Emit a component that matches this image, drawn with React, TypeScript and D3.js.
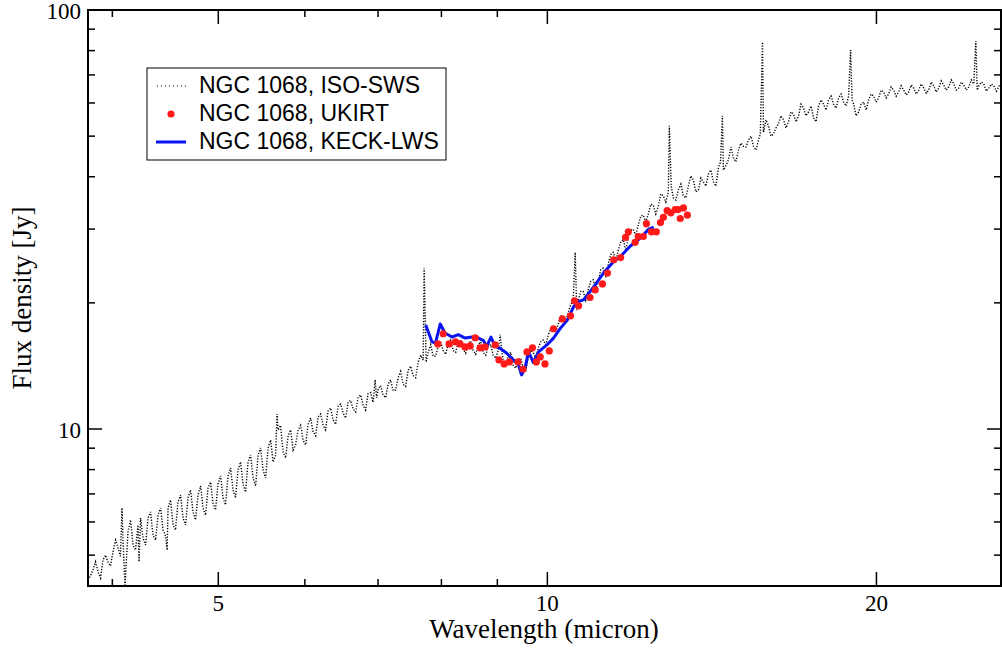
import React from "react";
import * as d3 from "d3";

const isoSws: [number, number][] = [
  [3.800,4.36],[3.820,4.46],[3.840,4.61],[3.861,4.82],[3.881,4.56],[3.902,4.41],[3.922,4.87],[3.943,5.00],[3.963,4.82],[3.984,4.71],
  [4.005,5.08],[4.027,5.43],[4.048,5.20],[4.069,4.97],[4.082,6.48],[4.091,5.43],[4.108,4.24],[4.134,5.68],[4.156,6.07],[4.178,5.29],
  [4.200,5.14],[4.222,5.90],[4.231,4.82],[4.245,6.13],[4.267,5.49],[4.290,5.29],[4.312,6.13],[4.335,6.34],[4.358,5.58],[4.381,5.43],
  [4.404,6.23],[4.428,6.48],[4.451,5.74],[4.475,5.55],[4.489,5.14],[4.498,6.48],[4.522,6.77],[4.545,5.90],[4.569,5.74],[4.593,6.70],
  [4.618,6.96],[4.642,6.13],[4.667,5.90],[4.691,6.85],[4.716,7.15],[4.741,6.34],[4.766,6.07],[4.791,6.96],[4.817,7.31],[4.842,6.48],
  [4.868,6.23],[4.893,7.23],[4.919,7.47],[4.945,6.66],[4.971,6.41],[4.997,7.39],[5.024,7.73],[5.050,6.85],[5.077,6.59],[5.104,7.73],
  [5.131,8.07],[5.158,7.15],[5.185,6.85],[5.212,7.98],[5.240,8.34],[5.268,7.39],[5.296,7.07],[5.323,8.34],[5.352,8.67],[5.380,7.64],
  [5.409,7.31],[5.437,8.67],[5.466,9.01],[5.495,7.98],[5.524,7.64],[5.553,9.01],[5.583,9.41],[5.612,8.34],[5.642,8.67],[5.659,10.86],
  [5.671,9.95],[5.701,10.2],[5.731,8.82],[5.762,8.53],[5.792,9.63],[5.823,9.95],[5.853,8.91],[5.884,9.16],[5.915,9.95],[5.947,10.2],
  [5.978,9.41],[6.010,9.16],[6.041,10.26],[6.073,10.62],[6.105,9.84],[6.138,9.63],[6.170,10.68],[6.203,10.86],[6.235,10.2],[6.268,9.95],
  [6.301,11.04],[6.335,11.22],[6.368,10.5],[6.402,10.26],[6.435,11.34],[6.470,11.46],[6.504,10.92],[6.538,10.62],[6.572,11.58],[6.607,11.7],
  [6.642,11.16],[6.677,10.98],[6.712,11.88],[6.748,12.06],[6.783,11.4],[6.819,11.1],[6.855,12.16],[6.892,12.22],[6.928,11.58],[6.957,13.1],
  [6.979,11.88],[7.001,12.4],[7.038,12.7],[7.075,12.04],[7.113,11.88],[7.150,12.78],[7.188,13.1],[7.226,12.34],[7.265,12.4],[7.303,13.26],
  [7.342,13.72],[7.380,12.78],[7.419,12.64],[7.458,13.8],[7.498,14.12],[7.537,13.42],[7.577,13.26],[7.617,14.44],[7.658,15.0],[7.698,14.6],
  [7.714,24.2],[7.747,14.44],[7.779,15.24],[7.821,15.9],[7.862,14.92],[7.904,14.92],[7.945,15.8],[7.987,16.14],[8.029,15.4],[8.072,15.08],
  [8.114,15.98],[8.157,16.3],[8.200,15.4],[8.244,15.24],[8.287,16.06],[8.331,16.3],[8.375,15.5],[8.419,15.16],[8.463,15.98],[8.508,16.22],
  [8.553,15.4],[8.599,15.08],[8.644,15.9],[8.690,16.14],[8.735,15.24],[8.782,15.0],[8.828,15.72],[8.875,15.9],[8.921,15.0],[8.969,14.76],
  [9.016,15.4],[9.054,16.8],[9.08,15.56],[9.111,14.6],[9.160,14.2],[9.208,14.92],[9.257,15.24],[9.305,14.2],[9.355,13.96],[9.404,14.6],
  [9.454,14.76],[9.503,13.96],[9.554,13.72],[9.604,14.76],[9.655,15.4],[9.706,15.24],[9.757,14.76],[9.808,15.6],[9.860,16.14],[9.912,16.3],
  [9.965,15.9],[10.017,16.7],[10.070,17.4],[10.123,17.4],[10.177,17.0],[10.231,17.8],[10.285,18.6],[10.339,18.6],[10.394,18.0],[10.449,19.0],
  [10.505,19.8],[10.560,20.4],[10.604,26.4],[10.638,19.2],[10.671,20.3],[10.728,21.3],[10.784,21.3],[10.842,20.3],[10.899,21.5],[10.957,22.5],
  [11.014,22.7],[11.073,21.5],[11.131,22.5],[11.190,24.0],[11.249,24.2],[11.309,23.2],[11.368,24.7],[11.429,26.1],[11.489,26.4],[11.550,25.2],
  [11.610,26.7],[11.672,28.0],[11.733,28.3],[11.796,26.7],[11.858,28.6],[11.921,29.8],[11.983,30.0],[12.047,28.9],[12.110,30.7],[12.175,32.2],
  [12.239,32.4],[12.304,31.2],[12.369,32.6],[12.435,34.4],[12.500,34.2],[12.566,32.6],[12.632,34.0],[12.699,36.4],[12.766,36.0],[12.834,34.8],
  [12.902,36.8],[12.929,52.9],[12.98,38.0],[13.038,35.6],[13.108,35.2],[13.177,37.2],[13.247,38.4],[13.316,36.0],[13.387,35.6],[13.458,38.0],
  [13.529,40.2],[13.600,39.3],[13.673,36.8],[13.745,37.2],[13.818,39.7],[13.890,38.9],[13.964,38.0],[14.038,40.6],[14.113,41.5],[14.187,38.9],
  [14.262,38.0],[14.337,42.0],[14.40,43.4],[14.458,55.9],[14.489,41.5],[14.566,42.5],[14.643,43.9],[14.721,47.1],[14.798,44.4],[14.877,43.4],
  [14.955,46.3],[15.034,48.1],[15.113,47.3],[15.194,47.1],[15.274,48.9],[15.355,50.0],[15.436,47.3],[15.518,46.3],[15.599,48.9],[15.66,50.6],
  [15.732,83.9],[15.765,51.1],[15.849,54.7],[15.932,52.9],[16.017,50.0],[16.101,50.6],[16.186,52.3],[16.271,53.5],[16.358,55.9],[16.444,54.7],
  [16.531,52.3],[16.618,54.1],[16.707,57.1],[16.795,56.5],[16.884,54.1],[16.973,55.9],[17.063,59.6],[17.153,58.3],[17.244,55.9],[17.335,57.1],
  [17.427,59.0],[17.518,55.3],[17.611,54.1],[17.704,59.0],[17.798,61.0],[17.892,59.6],[17.987,57.7],[18.081,61.0],[18.177,62.3],[18.273,59.6],
  [18.370,58.3],[18.467,61.7],[18.565,63.0],[18.663,60.3],[18.762,59.0],[18.861,62.3],[18.94,80.3],[19.00,61.0],[19.061,59.6],[19.162,55.9],
  [19.263,57.1],[19.365,59.6],[19.467,60.3],[19.570,57.7],[19.673,61.0],[19.778,63.0],[19.882,62.3],[19.988,60.3],[20.093,61.7],[20.200,64.4],
  [20.306,63.7],[20.414,61.7],[20.521,63.0],[20.630,65.5],[20.739,64.4],[20.849,62.3],[20.959,63.7],[21.070,65.9],[21.181,64.4],[21.294,62.7],
  [21.406,63.7],[21.520,66.2],[21.633,65.1],[21.748,63.0],[21.862,64.4],[21.978,66.6],[22.094,65.1],[22.211,63.3],[22.328,64.4],[22.447,67.3],
  [22.565,65.9],[22.685,63.7],[22.804,65.1],[22.925,67.7],[23.046,66.2],[23.168,64.4],[23.290,65.5],[23.414,68.1],[23.537,66.6],[23.662,64.4],
  [23.787,65.1],[23.913,67.3],[24.039,66.2],[24.167,64.4],[24.294,65.5],[24.423,68.1],[24.552,66.6],[24.656,84.3],[24.73,64.4],[24.812,65.9],
  [24.944,67.3],[25.075,66.6],[25.208,64.0],[25.341,65.1],[25.476,66.6],[25.610,65.9],[25.746,64.0],[25.881,65.5],[25.95,66.6],
];

const ukirt: [number, number][] = [
  [7.94,15.96],[8.03,16.88],[8.13,15.96],[8.24,16.14],[8.32,15.96],[8.41,15.70],[8.50,15.79],[8.59,16.51],[8.68,15.62],[8.77,15.70],
  [8.96,15.87],[9.03,14.62],[9.13,14.30],[9.23,14.46],[9.40,14.46],[9.50,13.90],[9.58,15.27],[9.69,15.62],[9.77,14.46],[9.85,14.86],
  [9.95,14.30],[10.04,15.36],[10.13,17.35],[10.32,18.31],[10.50,18.63],[10.59,20.23],[10.68,19.68],[10.94,20.6],[11.06,21.47],[11.23,22.2],
  [11.35,23.56],[11.50,25.35],[11.67,25.65],[11.79,28.66],[11.86,29.56],[12.03,27.9],[12.11,28.8],[12.24,28.8],[12.32,30.9],[12.45,29.56],
  [12.58,29.56],[12.69,31.1],[12.77,32.0],[12.87,33.2],[12.97,32.8],[13.09,33.4],[13.17,33.4],[13.23,31.8],[13.32,33.7],[13.43,32.4],
];

const keckLws: [number, number][] = [
  [7.74,17.72],[7.84,16.17],[7.90,16.02],[7.98,17.81],[8.06,16.95],[8.18,16.58],[8.29,16.79],[8.41,16.48],[8.53,16.58],[8.65,16.48],
  [8.74,16.26],[8.80,15.73],[8.88,16.58],[8.96,15.73],[9.05,15.59],[9.18,15.16],[9.31,14.62],[9.41,14.22],[9.47,13.46],[9.54,13.96],
  [9.61,15.3],[9.71,14.41],[9.82,15.3],[9.99,15.87],[10.13,16.48],[10.28,17.41],[10.43,18.21],[10.57,19.6],[10.69,20.16],[10.80,20.37],
  [11.02,21.8],[11.26,23.6],[11.50,25.1],[11.67,25.85],[11.91,27.35],[12.08,28.1],[12.25,29.1],[12.38,30.0],[12.51,30.3],
];

const xDomain: [number, number] = [3.8, 26];
const yDomain: [number, number] = [4.22, 100];
const xMajorTicks = [5, 10, 20];
const xMinorTicks = [4, 6, 7, 8, 9];
const yMajorTicks = [10, 100];
const yMinorTicks = [5, 6, 7, 8, 9, 20, 30, 40, 50, 60, 70, 80, 90];
const legendLabels = ["NGC 1068, ISO-SWS", "NGC 1068, UKIRT", "NGC 1068, KECK-LWS"];

const W = 1002;
const H = 648;
const L = 88, R = 1001, T = 10, B = 586;
const serif = "'Liberation Serif', 'Times New Roman', Times, serif";
const sans = "'Liberation Sans', Arial, Helvetica, sans-serif";

export default function App() {
  const x = d3.scaleLog().domain(xDomain).range([L, R]);
  const y = d3.scaleLog().domain(yDomain).range([B, T]);
  const line = d3.line<[number, number]>().x(d => x(d[0])).y(d => y(d[1]));
  const majLen = 14, minLen = 7;

  return (
    <svg width={W} height={H} style={{ position: "absolute", left: 0, top: 0, background: "#fff" }}>
      <defs>
        <clipPath id="plotclip"><rect x={L} y={T} width={R - L} height={B - T} /></clipPath>
      </defs>
      <g clipPath="url(#plotclip)">
        <path d={line(isoSws) || ""} fill="none" stroke="#000" strokeWidth={1.4} strokeDasharray="1.2,1.6" />
        <path d={line(keckLws) || ""} fill="none" stroke="#0a14f0" strokeWidth={3} strokeLinejoin="round" />
        {ukirt.map((d, i) => (
          <circle key={i} cx={x(d[0])} cy={y(d[1])} r={3.6} fill="#ff1a1a" />
        ))}
      </g>
      <rect x={L} y={T} width={R - L} height={B - T} fill="none" stroke="#000" strokeWidth={2} />
      {xMajorTicks.map(t => (
        <g key={"xM" + t}>
          <line x1={x(t)} x2={x(t)} y1={B} y2={B - majLen} stroke="#000" strokeWidth={1.5} />
          <line x1={x(t)} x2={x(t)} y1={T} y2={T + majLen} stroke="#000" strokeWidth={1.5} />
          <text x={x(t)} y={611} textAnchor="middle" fontFamily={serif} fontSize={23}>{t}</text>
        </g>
      ))}
      {xMinorTicks.map(t => (
        <g key={"xm" + t}>
          <line x1={x(t)} x2={x(t)} y1={B} y2={B - minLen} stroke="#000" strokeWidth={1.5} />
          <line x1={x(t)} x2={x(t)} y1={T} y2={T + minLen} stroke="#000" strokeWidth={1.5} />
        </g>
      ))}
      {yMajorTicks.map(t => (
        <g key={"yM" + t}>
          <line x1={L} x2={L + majLen} y1={y(t)} y2={y(t)} stroke="#000" strokeWidth={1.5} />
          <line x1={R} x2={R - majLen} y1={y(t)} y2={y(t)} stroke="#000" strokeWidth={1.5} />
          <text x={81} y={y(t) + 8.5} textAnchor="end" fontFamily={serif} fontSize={23}>{t}</text>
        </g>
      ))}
      {yMinorTicks.map(t => (
        <g key={"ym" + t}>
          <line x1={L} x2={L + minLen} y1={y(t)} y2={y(t)} stroke="#000" strokeWidth={1.5} />
          <line x1={R} x2={R - minLen} y1={y(t)} y2={y(t)} stroke="#000" strokeWidth={1.5} />
        </g>
      ))}
      <text x={544} y={638} textAnchor="middle" fontFamily={serif} fontSize={27}>Wavelength (micron)</text>
      <text transform={`translate(31,${(T + B) / 2}) rotate(-90)`} textAnchor="middle" fontFamily={serif} fontSize={27}>Flux density [Jy]</text>
      <rect x={147} y={68} width={299} height={92} fill="#fff" stroke="#000" strokeWidth={1} />
      <line x1={157} x2={186} y1={86} y2={86} stroke="#000" strokeWidth={1} strokeDasharray="1,3" />
      <circle cx={171} cy={114} r={3.6} fill="#ff1a1a" />
      <line x1={156} x2={186} y1={142} y2={142} stroke="#0a14f0" strokeWidth={3} />
      {legendLabels.map((s, i) => (
        <text key={s} x={199} y={93 + i * 28} fontFamily={sans} fontSize={23}>{s}</text>
      ))}
    </svg>
  );
}
